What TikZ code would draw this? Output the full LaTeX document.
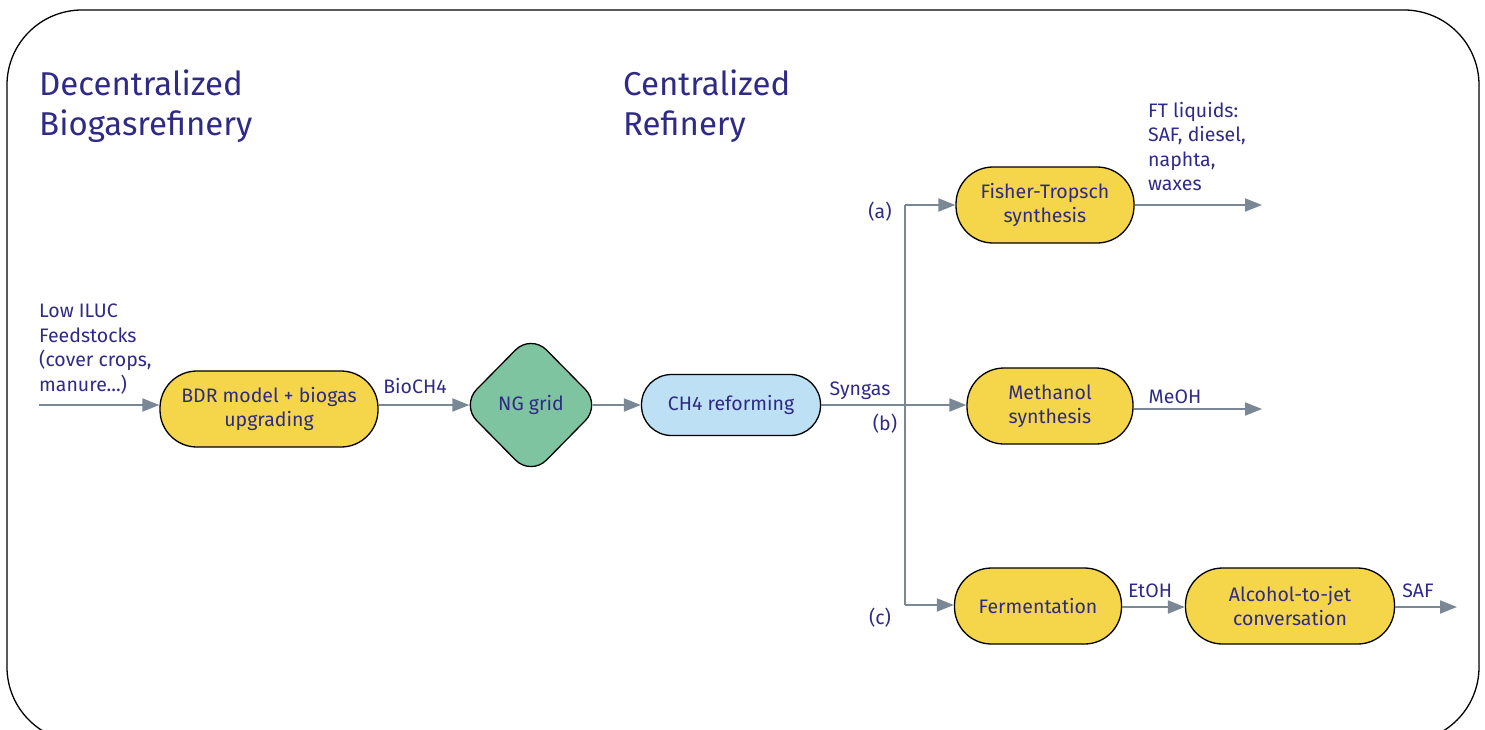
\documentclass[tikz,border=0pt]{standalone}
\usepackage{fontspec}
\setmainfont{Fira Sans}
\usetikzlibrary{shapes.geometric,arrows.meta}
\definecolor{ink}{HTML}{2E2A85}
\definecolor{arr}{HTML}{7A8896}
\definecolor{yel}{HTML}{F5D54A}
\definecolor{grn}{HTML}{7FC4A0}
\definecolor{lbl}{HTML}{BEE0F5}
\begin{document}
\begin{tikzpicture}[x=1pt,y=-1pt,
  proc/.style={draw=black, line width=1.3pt, rounded corners=37pt, minimum height=76pt, text=ink, align=center, font=\fontsize{19.5}{24}\selectfont, inner sep=0pt, fill=yel},
  lab/.style={text=ink, font=\fontsize{19.5}{24.5}\selectfont, inner sep=0pt},
  ttl/.style={text=ink, font=\fontsize{33}{40}\selectfont, inner sep=0pt, align=left, anchor=north west},
  conn/.style={draw=arr, line width=2pt},
  flow/.style={conn, -{Triangle[length=17pt,width=13pt]}}]
\useasboundingbox (0,0) rectangle (1485,729);
\draw[line width=1.3pt, rounded corners=75pt] (7,10) rectangle (1479,742);

\node[ttl] (t1) at (39,70) {Decentralized\\Biogasrefinery};
\node[ttl] (t2) at (623,70) {Centralized\\Refinery};

\node[lab, align=left, anchor=north west] (feed) at (39,304) {Low ILUC\\Feedstocks\\(cover crops,\\manure...)};
\coordinate (in) at (39,405);

\node[proc, minimum width=218pt] (bdr) at (269,409) {BDR model + biogas\\upgrading};
\node[diamond, draw=black, line width=1.3pt, fill=grn, rounded corners=22pt, minimum width=140pt, minimum height=142pt, aspect=1, inner sep=0pt, text=ink, font=\fontsize{19.5}{24}\selectfont] (ng) at (531,405) {NG grid};
\node[proc, fill=lbl, minimum width=179pt, minimum height=61pt, rounded corners=30pt] (cr) at (731,405) {CH4 reforming};

\node[proc, minimum width=178pt] (ft) at (1045,205) {Fisher-Tropsch\\synthesis};
\node[proc, minimum width=166pt] (me) at (1050,406) {Methanol\\synthesis};
\node[proc, minimum width=167pt] (fe) at (1038,606) {Fermentation};
\node[proc, minimum width=209pt] (aj) at (1290,606) {Alcohol-to-jet\\conversation};

\coordinate (J) at (905,405);
\coordinate (Jt) at (905,205);
\coordinate (Jb) at (905,605);
\coordinate (oft) at (1262,205);
\coordinate (ome) at (1262,409);
\coordinate (oaj) at (1457,607);

\draw[flow] (in) -- (bdr.west |- in);
\draw[flow] (bdr.east |- in) -- ([xshift=9pt]ng.west);
\draw[flow] ([xshift=-9pt]ng.east) -- (cr.west);
\draw[conn] (cr.east) -- (J);
\draw[flow] (J) -- (me.west |- J);
\draw[conn] (Jt) -- (Jb);
\draw[flow] (Jt) -- (ft.west);
\draw[flow] (Jb) -- (fe.west |- Jb);
\draw[flow] (ft.east) -- (oft);
\draw[flow] (me.east |- ome) -- (ome);
\draw[flow] (fe.east |- oaj) -- (aj.west |- oaj);
\draw[flow] (aj.east |- oaj) -- (oaj);

\node[lab] (l1) at (415,386) {BioCH4};
\node[lab] (l2) at (860,391) {Syngas};
\node[lab] (lb) at (885,424) {(b)};
\node[lab] (la) at (880,212) {(a)};
\node[lab] (lc) at (880,618) {(c)};
\node[lab] (l3) at (1175,397) {MeOH};
\node[lab] (l4) at (1150,591) {EtOH};
\node[lab] (l5) at (1418,591) {SAF};
\node[lab, align=left, anchor=north west] (l6) at (1148,102) {FT liquids:\\SAF, diesel,\\naphta,\\waxes};
\end{tikzpicture}
\end{document}
